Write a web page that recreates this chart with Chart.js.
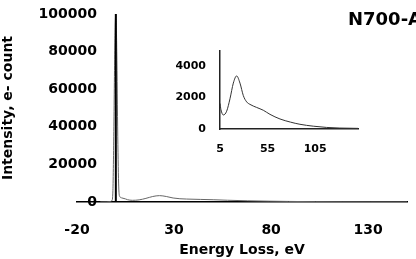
<!DOCTYPE html>
<html>
<head>
<meta charset="utf-8">
<script src="https://cdn.jsdelivr.net/npm/chart.js@4"></script>
<style>
  html, body { margin: 0; padding: 0; background: #fff; }
  #wrap { position: relative; width: 416px; height: 259px; overflow: hidden; }
  #main { position: absolute; left: 0; top: 0; }
  #inset { position: absolute; left: 160px; top: 30px; }
</style>
</head>
<body>
<div id="wrap">
  <canvas id="main" width="416" height="259"></canvas>
  <canvas id="inset" width="210" height="130"></canvas>
</div>
<script>
// ====== DATA ======
const energy = [-8, -5, -3, -2, -1.5, -1, -0.5, 0, 0.5, 1, 1.5, 2, 3, 5, 6, 8.5, 12, 15.5, 19, 22.5, 26, 29.5, 33, 36.5, 43.5, 50.5, 57.5, 68, 79, 89, 103, 117, 131, 150];
const counts = [0, 50, 200, 800, 6000, 40000, 85000, 100000, 80000, 35000, 8000, 3000, 2200, 1630, 1235, 895, 1135, 1930, 2925, 3385, 2925, 2130, 1730, 1570, 1375, 1195, 935, 640, 440, 300, 180, 100, 60, 40];

const xTicks = [-20, 30, 80, 130];
const yTicks = [0, 20000, 40000, 60000, 80000, 100000];
const insetXTicks = [5, 55, 105];
const insetYTicks = [0, 2000, 4000];

const title = "N700-A";
const xTitle = "Energy Loss, eV";
const yTitle = "Intensity, e- count";

const FONT = "'DejaVu Sans', sans-serif";

const mainPoints = energy.map((e, i) => ({ x: e, y: counts[i] }));
const insetPoints = mainPoints.filter(p => p.x >= 5);

// ====== PLUGINS ======
// vertical axis crosses the energy axis at 0 eV
const zeroAxis = {
  id: "zeroAxis",
  afterDatasetsDraw(chart) {
    const { ctx, scales: { x, y } } = chart;
    const px = x.getPixelForValue(0);
    ctx.save();
    ctx.strokeStyle = "#000";
    ctx.lineWidth = 2;
    ctx.beginPath();
    ctx.moveTo(px, y.getPixelForValue(0));
    ctx.lineTo(px, y.getPixelForValue(100000));
    ctx.stroke();
    ctx.restore();
  }
};

// value labels sit a bit inside the plot, Excel "low" style
const yLabels = {
  id: "yLabels",
  afterDraw(chart) {
    const { ctx, scales: { y } } = chart;
    ctx.save();
    ctx.font = "bold 14px " + FONT;
    ctx.fillStyle = "#000";
    ctx.textAlign = "right";
    ctx.textBaseline = "middle";
    yTicks.forEach(v => ctx.fillText(String(v), 97, y.getPixelForValue(v)));
    ctx.restore();
  }
};

const cornerTitle = {
  id: "cornerTitle",
  afterDraw(chart) {
    const ctx = chart.ctx;
    ctx.save();
    ctx.font = "bold 18px " + FONT;
    ctx.fillStyle = "#000";
    ctx.textAlign = "left";
    ctx.textBaseline = "middle";
    ctx.fillText(title, 348, 20);
    ctx.restore();
  }
};

// ====== MAIN CHART ======
new Chart(document.getElementById("main"), {
  type: "line",
  data: {
    datasets: [{
      data: mainPoints,
      borderColor: "#666",
      borderWidth: 1,
      pointRadius: 0,
      cubicInterpolationMode: "monotone",
      fill: false
    }]
  },
  options: {
    responsive: false,
    animation: false,
    events: [],
    layout: { padding: { top: 14, right: 9, left: 0, bottom: 0 } },
    plugins: { legend: { display: false }, tooltip: { enabled: false } },
    scales: {
      x: {
        type: "linear",
        min: -20,
        max: 150,
        afterBuildTicks: s => { s.ticks = xTicks.map(v => ({ value: v })); },
        afterFit: s => { s.height = 57; },
        grid: { display: false, drawTicks: false },
        border: { display: true, color: "#000", width: 1.5 },
        ticks: { color: "#000", padding: 20, callback: v => String(v), font: { family: FONT, size: 14, weight: "bold" } },
        title: {
          display: true,
          text: xTitle,
          color: "#000",
          padding: { top: 0, bottom: 0 },
          font: { family: FONT, size: 14, weight: "bold" }
        }
      },
      y: {
        min: 0,
        max: 100000,
        afterBuildTicks: s => { s.ticks = yTicks.map(v => ({ value: v })); },
        afterFit: s => { s.width = 77; },
        grid: { display: false, drawTicks: false },
        border: { display: false },
        ticks: { display: false },
        title: {
          display: true,
          text: yTitle,
          color: "#000",
          padding: { top: 0, bottom: 0 },
          font: { family: FONT, size: 14, weight: "bold" }
        }
      }
    }
  },
  plugins: [zeroAxis, yLabels, cornerTitle]
});

// ====== INSET ======
new Chart(document.getElementById("inset"), {
  type: "line",
  data: {
    datasets: [{
      data: insetPoints,
      borderColor: "#333",
      borderWidth: 1,
      pointRadius: 0,
      cubicInterpolationMode: "monotone",
      fill: false
    }]
  },
  options: {
    responsive: false,
    animation: false,
    events: [],
    layout: { padding: { top: 16, right: 12, left: 0, bottom: 0 } },
    plugins: { legend: { display: false }, tooltip: { enabled: false } },
    scales: {
      x: {
        type: "linear",
        min: 5,
        max: 150,
        afterBuildTicks: s => { s.ticks = insetXTicks.map(v => ({ value: v })); },
        afterFit: s => { s.height = 31; },
        grid: { display: false, drawTicks: false },
        border: { display: true, color: "#222", width: 1.5 },
        ticks: { color: "#000", padding: 14, callback: v => String(v), font: { family: FONT, size: 11, weight: "bold" } }
      },
      y: {
        min: 0,
        max: 5000,
        afterBuildTicks: s => { s.ticks = insetYTicks.map(v => ({ value: v })); },
        afterFit: s => { s.width = 60; },
        grid: { display: false, drawTicks: false },
        border: { display: true, color: "#222", width: 1.5 },
        ticks: { color: "#000", padding: 14, callback: v => String(v), font: { family: FONT, size: 11, weight: "bold" } }
      }
    }
  }
});
</script>
</body>
</html>
